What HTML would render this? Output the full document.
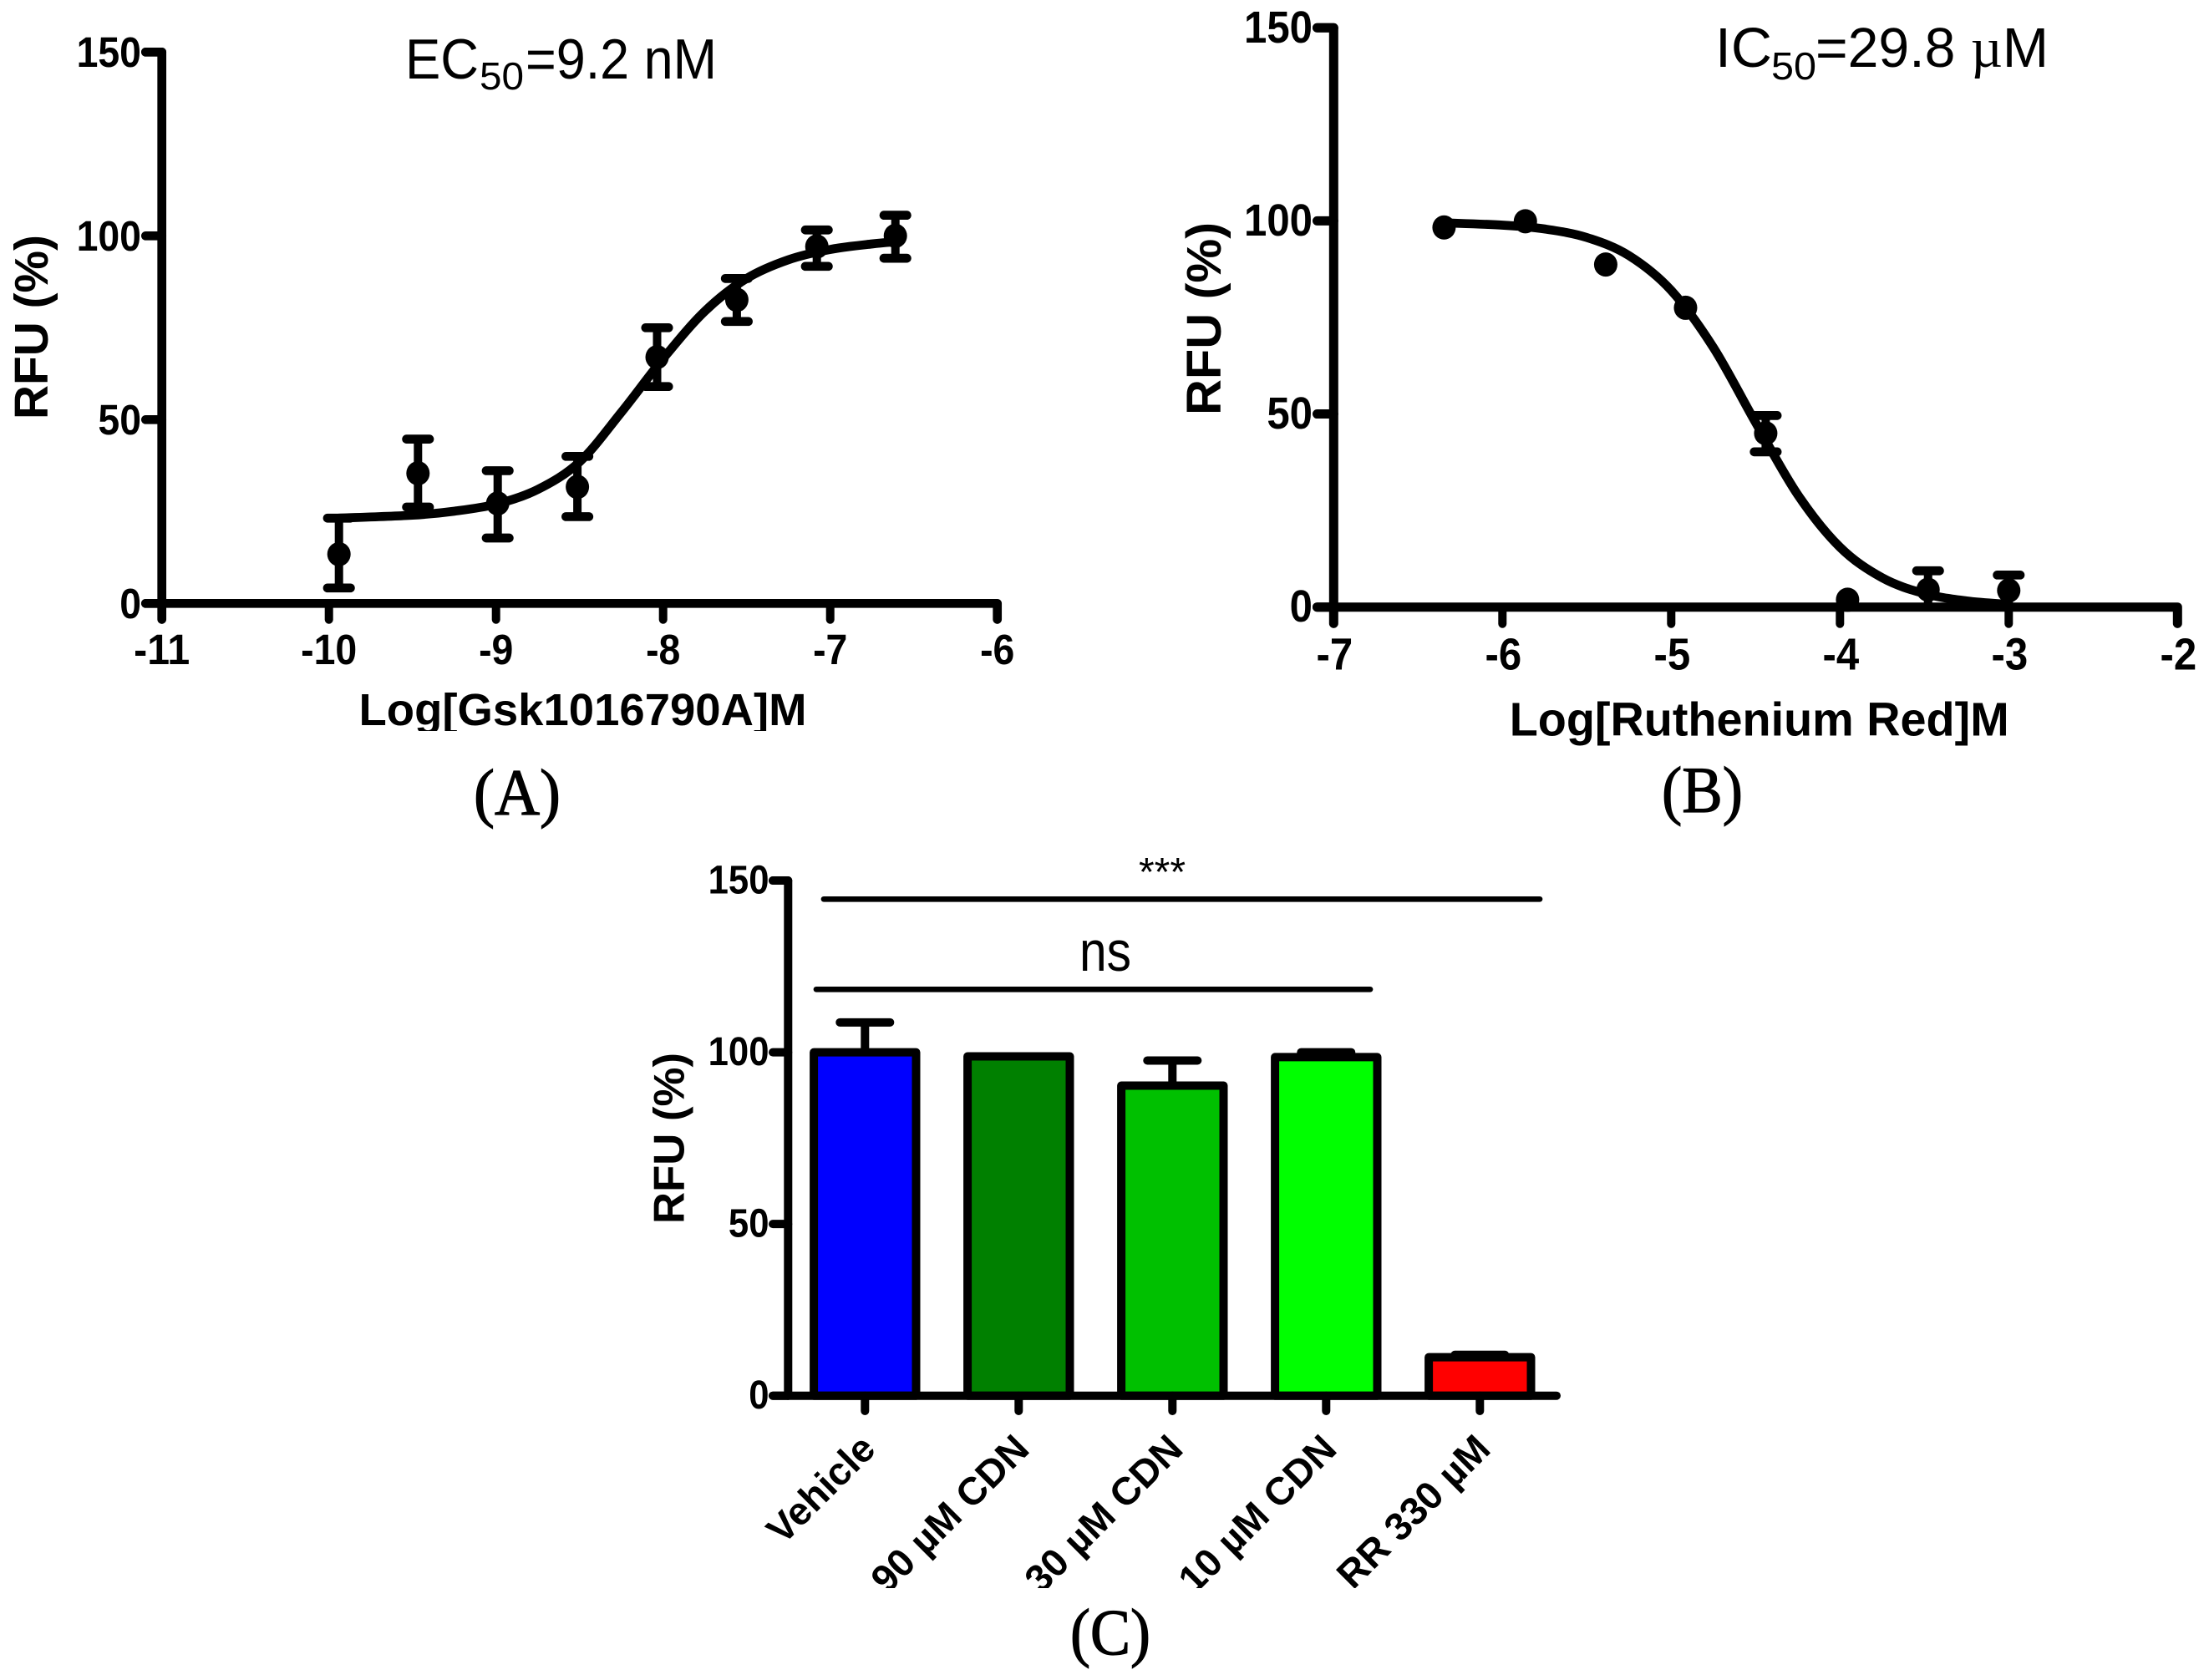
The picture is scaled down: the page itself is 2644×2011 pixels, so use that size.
<!DOCTYPE html>
<html lang="en">
<head>
<meta charset="utf-8">
<title>RFU dose-response charts</title>
<style>
html,body{margin:0;padding:0;background:#fff;}
svg{display:block;}
text{font-family:"Liberation Sans",sans-serif;fill:#000;}
.bold{font-weight:bold;}
.serif{font-family:"Liberation Serif",serif;}
.cap{stroke:#000;stroke-width:1.2;}
.ax{fill:none;stroke:#000;stroke-linecap:round;stroke-linejoin:round;}
.bar{stroke:#000;stroke-width:10;stroke-linejoin:round;}
.bar-0{fill:#0000ff;}
.bar-1{fill:#008000;}
.bar-2{fill:#00c000;}
.bar-3{fill:#00ff00;}
.bar-4{fill:#ff0000;}
</style>
</head>
<body>
<svg id="fig" xmlns="http://www.w3.org/2000/svg" width="2644" height="2011" viewBox="0 0 2644 2011">
<defs>
<clipPath id="clip-a-xlabel"><rect x="300" y="800" width="800" height="75"/></clipPath>
<clipPath id="clip-c-labels"><rect x="800" y="1690" width="1100" height="211"/></clipPath>
</defs>
<rect x="0" y="0" width="2644" height="2011" fill="#fff"/>

<g id="panel-a">
<text x="485" y="94" font-size="68" textLength="88" lengthAdjust="spacingAndGlyphs">EC</text>
<text x="574" y="107" font-size="46" textLength="53" lengthAdjust="spacingAndGlyphs">50</text>
<text x="629" y="94" font-size="68" textLength="229" lengthAdjust="spacingAndGlyphs">=9.2 nM</text>
<text transform="translate(57,502) rotate(-90)" class="bold" font-size="57" textLength="221" lengthAdjust="spacingAndGlyphs">RFU (%)</text>
<g clip-path="url(#clip-a-xlabel)">
<text x="429.5" y="868" class="bold" font-size="54" textLength="536" lengthAdjust="spacingAndGlyphs">Log[Gsk1016790A]M</text>
</g>
<text x="567" y="975" class="serif cap" font-size="78" textLength="104" lengthAdjust="spacingAndGlyphs">(A)</text>
</g>

<g id="panel-b">
<text x="2053" y="80" font-size="67" textLength="68" lengthAdjust="spacingAndGlyphs">IC</text>
<text x="2120" y="95" font-size="46" textLength="54" lengthAdjust="spacingAndGlyphs">50</text>
<text x="2173" y="80" font-size="67" textLength="279" lengthAdjust="spacingAndGlyphs">=29.8 <tspan class="serif">µ</tspan>M</text>
<text transform="translate(1461,497) rotate(-90)" class="bold" font-size="58" textLength="231" lengthAdjust="spacingAndGlyphs">RFU (%)</text>
<text x="1806.7" y="880.7" class="bold" font-size="57" textLength="598" lengthAdjust="spacingAndGlyphs">Log[Ruthenium Red]M</text>
<text x="1989" y="972" class="serif cap" font-size="78" textLength="97" lengthAdjust="spacingAndGlyphs">(B)</text>
</g>

<g id="panel-c">
<text transform="translate(818.3,1465) rotate(-90)" class="bold" font-size="52" textLength="205" lengthAdjust="spacingAndGlyphs">RFU (%)</text>
<line x1="986" y1="1076.3" x2="1843" y2="1076.3" stroke="#000" stroke-width="6.7" stroke-linecap="round"/>
<line x1="977" y1="1184.3" x2="1640" y2="1184.3" stroke="#000" stroke-width="6.7" stroke-linecap="round"/>
<text x="1391" y="1060" font-size="48" text-anchor="middle">***</text>
<text x="1323" y="1162" font-size="68" text-anchor="middle" textLength="62" lengthAdjust="spacingAndGlyphs">ns</text>
<text x="1281" y="1980" class="serif cap" font-size="78" textLength="96" lengthAdjust="spacingAndGlyphs">(C)</text>
</g>
</svg>

<script>
// Panel A data
const aYTicks = [0, 50, 100, 150];
const aXTicks = [-11, -10, -9, -8, -7, -6];
const aLogDose = [-9.94, -9.467, -8.99, -8.513, -8.036, -7.559, -7.08, -6.61];
const aResponse = [13.4, 35.4, 27.2, 31.7, 67, 82.6, 97.1, 100];
const aErrHigh = [23.2, 44.7, 36.1, 40, 75, 88.4, 101.6, 105.6];
const aErrLow = [4.2, 26.2, 17.8, 23.6, 59, 76.7, 91.7, 93.9];
const aCurveDose = [-9.94, -9.5, -9.25, -9, -8.75, -8.5, -8.25, -8, -7.75, -7.5, -7.25, -7, -6.75, -6.6];
const aCurveResp = [23.2, 24, 25.1, 27, 31, 38.5, 52, 66.6, 79.5, 88.4, 93.5, 96.3, 97.8, 98.4];

// Panel B data
const bYTicks = [0, 50, 100, 150];
const bXTicks = [-7, -6, -5, -4, -3, -2];
const bLogDose = [-6.346, -5.864, -5.388, -4.915, -4.44, -3.955, -3.478, -3];
const bResponse = [98.3, 99.9, 88.7, 77.5, 45, 1.9, 4.5, 4.3];
const bErrHigh = [98.3, 99.9, 88.7, 77.5, 49.6, 1.9, 9.4, 8.3];
const bErrLow = [98.3, 99.9, 88.7, 77.5, 40.2, 1.9, 0, 0.3];
const bCurveDose = [-6.35, -6, -5.75, -5.5, -5.25, -5, -4.75, -4.5, -4.25, -4, -3.75, -3.5, -3.25, -3];
const bCurveResp = [99.5, 98.9, 97.9, 95.7, 91, 82, 67.2, 47.8, 29.1, 15.5, 7.6, 3.5, 1.6, 0.7];

// Panel C data
const cYTicks = [0, 50, 100, 150];
const cCategories = ['Vehicle', '90 µM CDN', '30 µM CDN', '10 µM CDN', 'RR 330 µM'];
const cValues = [100, 98.8, 90.3, 98.6, 11.2];
const cErrHigh = [108.7, 98.8, 97.6, 100, 11.9];

const NS = 'http://www.w3.org/2000/svg';
const root = document.getElementById('fig');

function mk(parent, tag, attrs, name) {
  const el = document.createElementNS(NS, tag);
  for (const k in attrs) el.setAttribute(k, attrs[k]);
  
  
  parent.appendChild(el);
  return el;
}

function numLen(str, size, squeeze) {
  let w = 0;
  for (const ch of String(str)) w += ch === '-' ? 0.333 : 0.556;
  return w * size * squeeze;
}

function numText(parent, x, y, str, size, squeeze, anchor, name) {
  const t = mk(parent, 'text', {
    x: x, y: y, 'font-size': size, 'font-weight': 'bold', 'text-anchor': anchor,
    textLength: numLen(str, size, squeeze), lengthAdjust: 'spacingAndGlyphs'
  }, name);
  t.textContent = str;
  return t;
}

function smoothPath(pts) {
  let d = 'M' + pts[0][0].toFixed(1) + ',' + pts[0][1].toFixed(1);
  for (let i = 0; i < pts.length - 1; i++) {
    const p0 = pts[Math.max(i - 1, 0)], p1 = pts[i], p2 = pts[i + 1], p3 = pts[Math.min(i + 2, pts.length - 1)];
    const c1x = p1[0] + (p2[0] - p0[0]) / 6, c1y = p1[1] + (p2[1] - p0[1]) / 6;
    const c2x = p2[0] - (p3[0] - p1[0]) / 6, c2y = p2[1] - (p3[1] - p1[1]) / 6;
    d += 'C' + c1x.toFixed(1) + ',' + c1y.toFixed(1) + ' ' + c2x.toFixed(1) + ',' + c2y.toFixed(1) + ' ' + p2[0].toFixed(1) + ',' + p2[1].toFixed(1);
  }
  return d;
}

function drawDosePanel(cfg) {
  const g = document.getElementById(cfg.id);
  const xS = cfg.xScale, yS = cfg.yScale;
  const x0 = xS(cfg.xTicks[0]), xEnd = xS(cfg.xTicks[cfg.xTicks.length - 1]);
  const yTop = yS(cfg.yTicks[cfg.yTicks.length - 1]), y0 = yS(0);
  const sw = cfg.axisWidth;
  const hw = sw / 2;
  const tickBottom = cfg.tickBottom - hw;
  const left = cfg.tickLeft + hw;

  mk(g, 'path', {class: 'ax', 'stroke-width': sw, d: 'M' + left + ',' + yTop + 'H' + x0 + 'V' + tickBottom}, 'y-axis-' + cfg.key);
  mk(g, 'path', {class: 'ax', 'stroke-width': sw, d: 'M' + left + ',' + y0 + 'H' + xEnd + 'V' + tickBottom}, 'x-axis-' + cfg.key);

  cfg.yTicks.forEach(function (v) {
    const y = yS(v);
    mk(g, 'line', {class: 'ax', 'stroke-width': sw, x1: left, y1: y, x2: x0, y2: y}, 'y-tick-' + cfg.key + '-' + v);
    numText(g, cfg.labelRight, y + cfg.yLabelDy, v, cfg.fontSize, cfg.squeeze, 'end', 'y-tick-label-' + cfg.key + '-' + v);
  });
  cfg.xTicks.forEach(function (v) {
    const x = xS(v);
    mk(g, 'line', {class: 'ax', 'stroke-width': 10, x1: x, y1: y0, x2: x, y2: cfg.tickBottom - 5}, 'x-tick-' + cfg.key + '-' + v);
    numText(g, x + cfg.xLabelDx, cfg.xLabelY, v, cfg.fontSize, cfg.squeeze, 'middle', 'x-tick-label-' + cfg.key + '-' + v);
  });

  const curvePts = cfg.curveX.map(function (d, i) { return [xS(d), yS(cfg.curveY[i])]; });
  mk(g, 'path', {class: 'ax', 'stroke-width': 10.7, d: smoothPath(curvePts)}, 'fit-curve-' + cfg.key);

  cfg.x.forEach(function (d, i) {
    const x = xS(d);
    const hi = yS(cfg.hi[i]), lo = yS(cfg.lo[i]);
    if (cfg.hi[i] !== cfg.lo[i]) {
      mk(g, 'line', {stroke: '#000', 'stroke-width': 10, x1: x, y1: hi, x2: x, y2: lo}, 'error-stem-' + cfg.key + '-' + i);
      mk(g, 'line', {class: 'ax', 'stroke-width': 10.7, x1: x - 13.7, y1: hi, x2: x + 13.7, y2: hi}, 'error-cap-high-' + cfg.key + '-' + i);
      if (cfg.lo[i] > 0.5) {
        mk(g, 'line', {class: 'ax', 'stroke-width': 10.7, x1: x - 13.7, y1: lo, x2: x + 13.7, y2: lo}, 'error-cap-low-' + cfg.key + '-' + i);
      }
    }
    mk(g, 'ellipse', {cx: x, cy: yS(cfg.y[i]), rx: 14, ry: 14.5, fill: '#000'}, 'point-' + cfg.key + '-' + i);
  });
}

drawDosePanel({
  id: 'panel-a', key: 'a',
  xScale: function (v) { return 193.7 + (v + 11) * 200; },
  yScale: function (v) { return 722.3 - v * 4.4; },
  xTicks: aXTicks, yTicks: aYTicks,
  x: aLogDose, y: aResponse, hi: aErrHigh, lo: aErrLow,
  curveX: aCurveDose, curveY: aCurveResp,
  axisWidth: 10.7, tickLeft: 169, tickBottom: 746.7,
  labelRight: 169, yLabelDy: 17.5, xLabelDx: 0, xLabelY: 795,
  fontSize: 51, squeeze: 0.91
});

drawDosePanel({
  id: 'panel-b', key: 'b',
  xScale: function (v) { return 1596.3 + (v + 7) * 202; },
  yScale: function (v) { return 726.7 - v * 4.623; },
  xTicks: bXTicks, yTicks: bYTicks,
  x: bLogDose, y: bResponse, hi: bErrHigh, lo: bErrLow,
  curveX: bCurveDose, curveY: bCurveResp,
  axisWidth: 11, tickLeft: 1571, tickBottom: 751.7,
  labelRight: 1571, yLabelDy: 17.5, xLabelDx: 1, xLabelY: 801.7,
  fontSize: 54, squeeze: 0.91
});

(function drawBarPanel() {
  const g = document.getElementById('panel-c');
  const xBand = function (i) { return 1035.3 + i * 184; };
  const yS = function (v) { return 1670.7 - v * 4.111; };
  const axisX = 943.3, sw = 10;
  const yTop = yS(cYTicks[cYTicks.length - 1]), y0 = yS(0);
  const barW = 122.4;

  cCategories.forEach(function (c, i) {
    const x = xBand(i);
    const hi = yS(cErrHigh[i]);
    mk(g, 'line', {stroke: '#000', 'stroke-width': 10, x1: x, y1: hi, x2: x, y2: yS(cValues[i])}, 'error-stem-c-' + i);
    mk(g, 'line', {class: 'ax', 'stroke-width': 10, x1: x - 30, y1: hi, x2: x + 30, y2: hi}, 'error-cap-c-' + i);
    const bar = mk(g, 'rect', {
      x: x - barW / 2, y: yS(cValues[i]), width: barW, height: y0 - yS(cValues[i])
    }, 'bar-' + i);
    bar.setAttribute('class', 'bar bar-' + i);
    mk(g, 'line', {class: 'ax', 'stroke-width': 10, x1: x, y1: y0, x2: x, y2: 1689}, 'x-tick-c-' + i);
  });

  mk(g, 'path', {class: 'ax', 'stroke-width': sw, d: 'M925,' + yTop + 'H' + axisX + 'V' + y0}, 'y-axis-c');
  mk(g, 'path', {class: 'ax', 'stroke-width': sw, d: 'M925,' + y0 + 'H1863'}, 'x-axis-c');

  cYTicks.forEach(function (v) {
    const y = yS(v);
    mk(g, 'line', {class: 'ax', 'stroke-width': sw, x1: 925, y1: y, x2: axisX, y2: y}, 'y-tick-c-' + v);
    numText(g, 920.5, y + 15.5, v, 48, 0.91, 'end', 'y-tick-label-c-' + v);
  });

  const clip = mk(g, 'g', {'clip-path': 'url(#clip-c-labels)'}, 'category-labels');
  cCategories.forEach(function (c, i) {
    const ex = xBand(i) + 15;
    const t = mk(clip, 'text', {
      transform: 'translate(' + ex + ',1737) rotate(-45)',
      'font-size': 46.5, 'font-weight': 'bold', 'text-anchor': 'end'
    }, 'category-label-' + i);
    t.textContent = c;
  });
})();
</script>
</body>
</html>
